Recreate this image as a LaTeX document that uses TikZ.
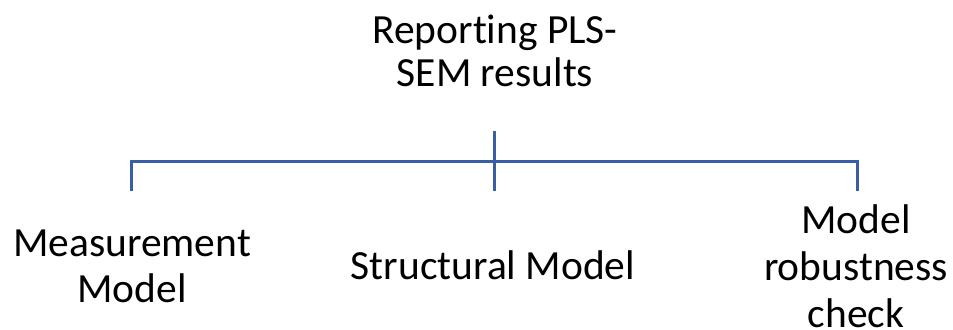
\documentclass[tikz,border=0pt]{standalone}
\usepackage{fontspec}
\setmainfont[Ligatures=NoCommon]{Carlito}
\definecolor{linkblue}{RGB}{58,94,166}
\begin{document}
\begin{tikzpicture}[x=1bp,y=-1bp,
  label text/.style={anchor=base, align=center, inner sep=0pt, font=\fontsize{41.5bp}{46bp}\selectfont},
  tree link/.style={draw=linkblue, line width=3bp}]
  \useasboundingbox (0,0) rectangle (953,329);

  % labels, each placed by the baseline of its last line
  \node[label text, font=\fontsize{41.5bp}{43.5bp}\selectfont] (root) at (495,86.5) {Reporting PLS-\\SEM results};
  \node[label text] (meas) at (132,302) {Measurement\\Model};
  \node[label text] (struct) at (493,279) {Structural Model};
  \node[label text, font=\fontsize{41.5bp}{47bp}\selectfont] (robust) at (856,327) {Model\\robustness\\check};

  % connector points
  \coordinate (stubtop) at (494,131);
  \coordinate (hub) at (494,161);
  \coordinate (measend) at (131,191);
  \coordinate (structend) at (494,191);
  \coordinate (robustend) at (857,191);

  % bracket
  \draw[tree link] (measend) |- (hub) -| (robustend);
  \draw[tree link] (stubtop) -- (structend);
\end{tikzpicture}
\end{document}
